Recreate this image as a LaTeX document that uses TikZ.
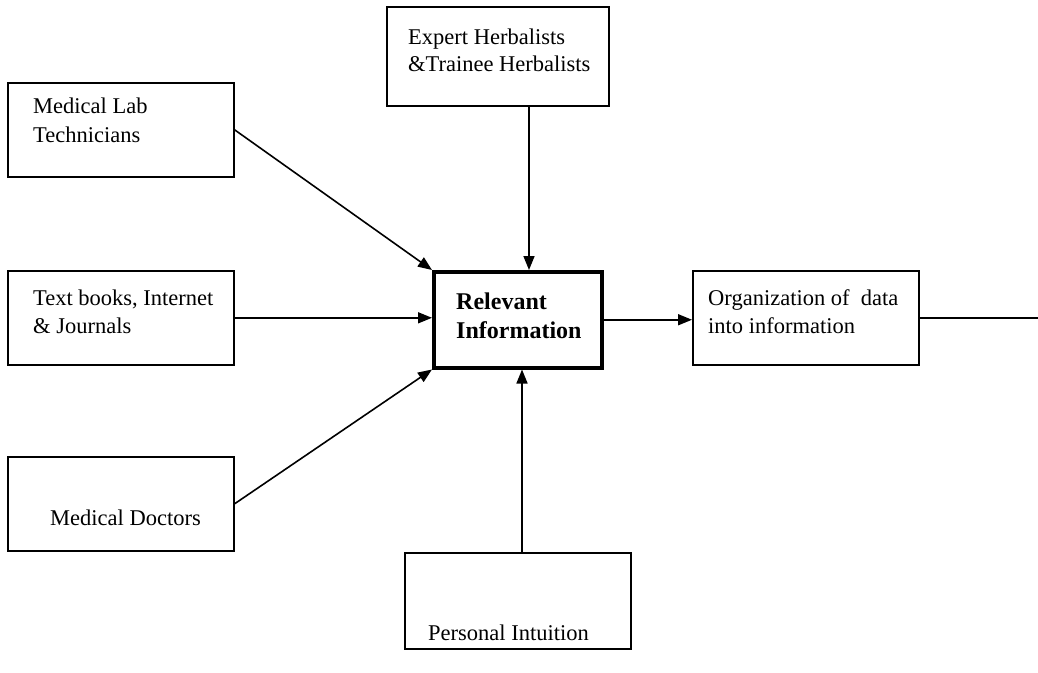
\documentclass[tikz,border=0pt]{standalone}
\usepackage{fontspec}
\setmainfont{Liberation Serif}
\usetikzlibrary{arrows.meta}
\begin{document}
\begin{tikzpicture}[x=1pt,y=-1pt,
  box/.style={draw, line width=1.6pt, rectangle, inner sep=0pt, anchor=north west},
  hubbox/.style={draw, line width=3.5pt, rectangle, inner sep=0pt, anchor=north west},
  lbl/.style={anchor=base west, inner sep=0pt, font=\fontsize{22.5}{27}\selectfont},
  hublbl/.style={lbl, font=\fontsize{24}{28}\selectfont\bfseries},
  flow/.style={line width=1.6pt, -{Triangle[length=14pt,width=11pt]}},
  plain/.style={line width=1.6pt}
]
\useasboundingbox (0,0) rectangle (1038,672);

% boxes
\node[box, minimum width=222pt, minimum height=99pt] (expert) at (386,6) {};
\node[box, minimum width=226pt, minimum height=94pt] (lab)    at (7,82) {};
\node[box, minimum width=226pt, minimum height=94pt] (books)  at (7,270) {};
\node[box, minimum width=226pt, minimum height=94pt] (doc)    at (7,456) {};
\node[hubbox, minimum width=168pt, minimum height=96pt] (hub) at (432,270) {};
\node[box, minimum width=226pt, minimum height=94pt] (org)    at (692,270) {};
\node[box, minimum width=226pt, minimum height=96pt] (intu)   at (404,552) {};
\coordinate (exit) at (1038,318);
\coordinate (topx) at (529,0);
\coordinate (botx) at (522,0);

% labels
\node[lbl] (expert1) at (408,44) {Expert Herbalists};
\node[lbl] (expert2) at (408,71) {\&Trainee Herbalists};
\node[lbl] (lab1) at (33,113) {Medical Lab};
\node[lbl] (lab2) at (33,142) {Technicians};
\node[lbl] (books1) at (33,305) {Text books, Internet};
\node[lbl] (books2) at (33,333) {\& Journals};
\node[lbl] (doc1) at (50,525) {Medical Doctors};
\node[hublbl] (hub1) at (456,309) {Relevant};
\node[hublbl] (hub2) at (456,338) {Information};
\node[lbl] (org1) at (708,305) {Organization of~ data};
\node[lbl] (org2) at (708,333) {into information};
\node[lbl] (intu1) at (428,640) {Personal Intuition};

% connectors
\draw[flow] (lab.east) -- (hub.north west);
\draw[flow] (books.east) -- (books.east -| hub.west);
\draw[flow] (doc.east) -- (hub.south west);
\draw[flow] (expert.south -| topx) -- (hub.north -| topx);
\draw[flow] (intu.north -| botx) -- (hub.south -| botx);
\draw[flow] (hub.east) -- (hub.east -| org.west);
\draw[plain] (org.east) -- (org.east -| exit);
\end{tikzpicture}
\end{document}
